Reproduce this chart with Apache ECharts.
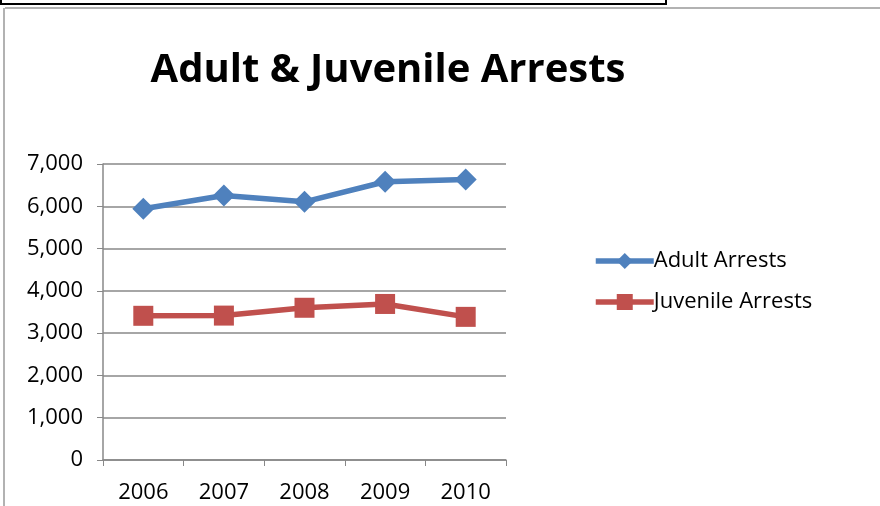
<!DOCTYPE html>
<html>
<head>
<meta charset="utf-8">
<script src="https://cdn.jsdelivr.net/npm/echarts@6/dist/echarts.min.js"></script>
<style>
  html, body { margin: 0; padding: 0; background: #fff; }
  #main { width: 880px; height: 506px; }
</style>
</head>
<body>
<div id="main"></div>
<script>
var years = ['2006', '2007', '2008', '2009', '2010'];
var adultArrests = [5940, 6255, 6105, 6580, 6635];
var juvenileArrests = [3410, 3415, 3600, 3690, 3385];

var myChart = echarts.init(document.getElementById('main'));

var font = '"Open Sans", "Liberation Sans", sans-serif';

var option = {
    backgroundColor: '#fff',
    animation: false,
    textStyle: { fontFamily: font },
    title: {
        text: 'Adult & Juvenile Arrests',
        left: 383,
        top: 46,
        textAlign: 'center',
        textStyle: { fontSize: 40, fontWeight: 'bold', color: '#000', fontFamily: font }
    },
    legend: {
        orient: 'vertical',
        left: 588,
        top: 245,
        itemWidth: 58,
        itemHeight: 20,
        itemGap: 19,
        lineStyle: { width: 5.5 },
        textStyle: { fontSize: 22, color: '#000', padding: [0, 0, 0, -5] },
        data: ['Adult Arrests', 'Juvenile Arrests']
    },
    grid: { left: 103, right: 374, top: 164, bottom: 46 },
    xAxis: {
        type: 'category',
        data: years,
        boundaryGap: true,
        axisLine: { lineStyle: { color: '#888', width: 1.5 } },
        axisTick: { show: true, length: 6, lineStyle: { color: '#888' } },
        axisLabel: { fontSize: 22, color: '#000', margin: 22 }
    },
    yAxis: {
        type: 'value',
        min: 0,
        max: 7000,
        interval: 1000,
        axisLine: { show: true, lineStyle: { color: '#888', width: 1.5 } },
        axisTick: { show: true, length: 6, lineStyle: { color: '#888' } },
        splitLine: { lineStyle: { color: '#888', width: 1.5 } },
        axisLabel: {
            fontSize: 22, color: '#000', margin: 20,
            formatter: function (v) { return v.toLocaleString('en-US'); }
        }
    },
    series: [
        {
            name: 'Adult Arrests',
            type: 'line',
            data: adultArrests,
            symbol: 'diamond',
            symbolSize: 22,
            color: '#4F81BD',
            lineStyle: { width: 5.5, color: '#4F81BD' },
            itemStyle: { color: '#4F81BD' }
        },
        {
            name: 'Juvenile Arrests',
            type: 'line',
            data: juvenileArrests,
            symbol: 'rect',
            symbolSize: 20,
            color: '#C0504D',
            lineStyle: { width: 5.5, color: '#C0504D' },
            itemStyle: { color: '#C0504D' }
        }
    ],
    graphic: [
        // frame lines of the surrounding sheet
        { type: 'line', shape: { x1: 5, y1: 8, x2: 880, y2: 8 }, style: { stroke: '#999', lineWidth: 1.5 } },
        { type: 'line', shape: { x1: 4, y1: 8, x2: 4, y2: 506 }, style: { stroke: '#999', lineWidth: 1.5 } },
        { type: 'rect', shape: { x: 1, y: -3, width: 665, height: 7 }, style: { fill: 'none', stroke: '#000', lineWidth: 2 } }
    ]
};

myChart.setOption(option);
</script>
</body>
</html>
